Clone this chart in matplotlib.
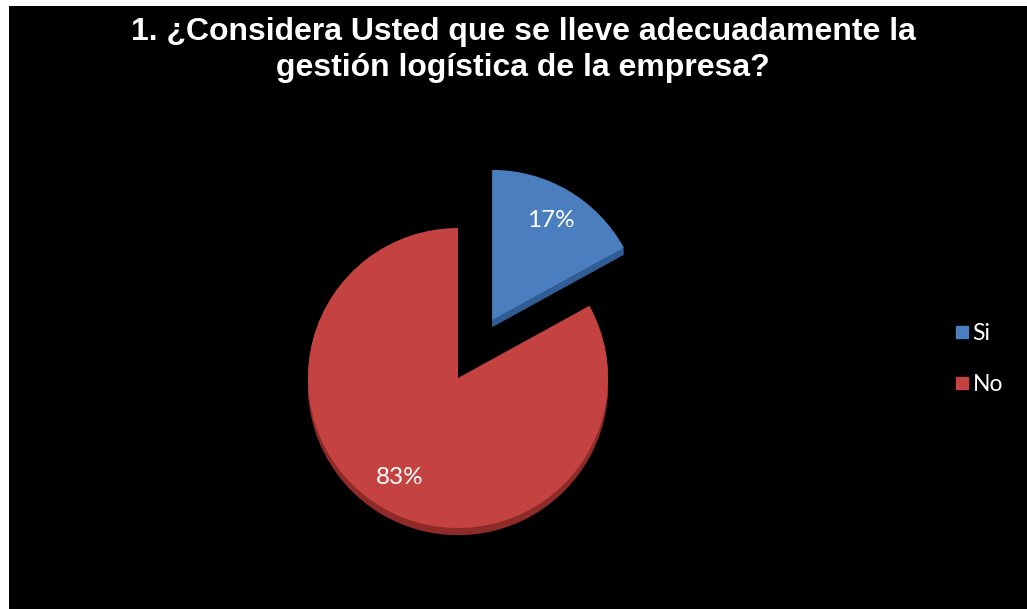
import numpy as np
import matplotlib.pyplot as plt
from matplotlib.patches import Rectangle
from matplotlib.lines import Line2D

# datos
categorias = ['Si', 'No']
porcentajes = [17, 83]
colores = ['#4A7EBF', '#C4423F']
colores_borde = ['#2F5D94', '#8E2B29']
titulo = '1. ¿Considera Usted que se lleve adecuadamente la\ngestión logística de la empresa?'

W, H = 1027, 609
fig = plt.figure(figsize=(W / 100, H / 100), dpi=100)
fig.patch.set_facecolor('white')
fig.patches.append(Rectangle((9 / W, 0), 1, 1 - 6 / H, transform=fig.transFigure,
                             facecolor='black', edgecolor='none', zorder=-5))

# ejes en unidades de radio (1 = 150 px)
R = 150.0
cx, cy = 458, H - 378
ax = fig.add_axes([0, 0, 1, 1], zorder=2)
ax.patch.set_visible(False)
ax.axis('off')

explode = [0.45, 0]

# sombra / espesor 3D
for k in range(8, 0, -1):
    ax.pie(porcentajes, colors=colores_borde, startangle=90, counterclock=False,
           explode=explode, center=(0, -k * 0.006), radius=1.0,
           wedgeprops=dict(linewidth=0))

wedges, textos, autotextos = ax.pie(
    porcentajes, colors=colores, startangle=90, counterclock=False,
    explode=explode, radius=1.0, autopct='%1.0f%%', pctdistance=0.77,
    wedgeprops=dict(linewidth=0),
    textprops=dict(color='white', fontsize=17.5, family=['Lato', 'DejaVu Sans']))
ax.set_xlim(-cx / R, (W - cx) / R)
ax.set_ylim(-cy / R, (H - cy) / R)
ax.set_aspect('equal')

fig.text(523 / W, 1 - 50 / H, titulo, ha='center', va='center', color='white',
         fontsize=23, fontweight='bold', family=['Liberation Sans', 'DejaVu Sans'],
         linespacing=1.3, zorder=3)

handles = [Line2D([], [], marker='s', linestyle='none', markersize=9,
                  markerfacecolor=c, markeredgecolor=c) for c in colores]
leg = fig.legend(handles, categorias, loc='center left', bbox_to_anchor=(953 / W, 1 - 359 / H),
                 frameon=False, borderpad=0, borderaxespad=0,
                 labelspacing=1.3, handletextpad=0.05, handlelength=0.8,
                 prop=dict(family=['Lato', 'DejaVu Sans'], size=16.5))
for t in leg.get_texts():
    t.set_color('white')

fig.savefig('out.png', dpi=100, facecolor=fig.get_facecolor())
